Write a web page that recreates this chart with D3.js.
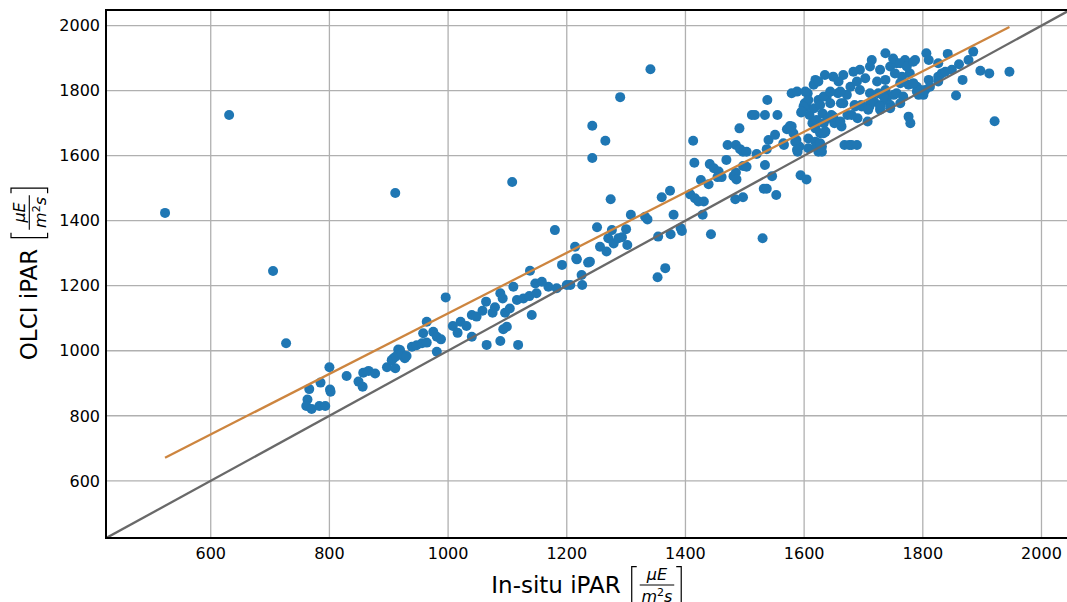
<!DOCTYPE html>
<html>
<head>
<meta charset="utf-8">
<script src="https://cdn.jsdelivr.net/npm/d3@7"></script>
<style>
  body { margin: 0; background: #fff; }
  svg { display: block; font-family: "DejaVu Sans", sans-serif; }
</style>
</head>
<body>
<svg id="chart" width="1067" height="602"></svg>
<script>
// in-situ iPAR vs OLCI iPAR
const points = [
  [523,1424],[631,1725],[705,1245],[727,1023],[911,1485],[1108,1519],[1341,1866],[1290,1780],[1243,1692],[1243,1593],[1265,1646],
  [800,949],[766,882],[785,902],[801,881],[802,874],[763,850],[761,830],[770,821],[783,830],[793,830],[829,922],[849,905],[856,889],
  [857,932],[866,938],[877,930],[897,949],[908,977],[911,946],[916,1004],[905,971],[912,982],[919,1002],[927,977],[922,990],[930,984],
  [939,1012],[947,1017],[956,1023],[964,1025],[958,1054],[964,1089],[975,1058],[981,1043],[988,1035],[981,997],[996,1164],[1008,1076],
  [1016,1055],[1021,1089],[1031,1076],[1040,1043],[1040,1110],[1048,1105],[1058,1123],[1064,1151],[1075,1117],[1079,1134],[1088,1177],
  [1092,1161],[1096,1117],[1104,1130],[1099,1074],[1093,1066],[1110,1197],[1116,1156],[1127,1161],[1137,1168],[1149,1177],[1141,1110],
  [1065,1018],[1088,1030],[1118,1018],[1147,1207],[1169,1197],[1183,1192],[1200,1202],[1158,1212],[1138,1246],[1206,1202],
  [1180,1371],[1192,1264],[1214,1320],[1217,1281],[1239,1274],[1251,1380],[1256,1320],[1267,1305],[1270,1346],[1276,1371],[1279,1330],
  [1287,1346],[1293,1349],[1300,1374],[1302,1325],[1226,1202],[1225,1233],[1216,1284],[1236,1271],[1274,1466],[1308,1418],[1332,1412],
  [1336,1404],[1360,1472],[1374,1492],[1380,1418],[1354,1351],[1375,1358],[1392,1377],[1394,1368],[1366,1254],[1353,1226],[1413,1646],
  [1415,1578],[1408,1481],[1416,1469],[1422,1459],[1431,1459],[1429,1418],[1426,1525],[1439,1512],[1443,1358],[1441,1574],[1448,1561],
  [1456,1551],[1461,1534],[1454,1534],[1469,1587],[1471,1633],[1481,1537],[1484,1466],[1485,1633],[1492,1620],[1497,1612],[1503,1612],
  [1485,1548],[1486,1527],[1497,1568],[1503,1566],[1497,1472],[1491,1684],[1520,1605],[1530,1346],[1532,1498],[1537,1498],[1534,1571],
  [1537,1620],[1540,1648],[1546,1537],[1553,1479],[1551,1664],[1566,1633],[1571,1681],[1576,1691],[1582,1669],[1587,1648],[1592,1628],
  [1589,1612],[1512,1725],[1517,1725],[1534,1725],[1555,1725],[1538,1771],[1594,1540],[1604,1527],[1607,1623],[1595,1733],[1604,1751],
  [1565,1638],[1579,1792],[1601,1761],[1606,1792],[1607,1653],[1609,1725],[1617,1746],[1614,1700],[1619,1643],[1621,1628],[1624,1612],
  [1630,1628],[1627,1669],[1624,1771],[1631,1730],[1633,1700],[1636,1674],[1638,1782],[1640,1715],[1646,1725],[1651,1700],[1657,1792],
  [1662,1761],[1668,1633],[1676,1633],[1673,1725],[1685,1756],[1690,1715],[1696,1756],[1707,1705],[1710,1751],[1718,1766],[1729,1756],
  [1740,1782],[1751,1787],[1776,1720],[1779,1700],[1790,1797],[1804,1802],
  [1737,1915],[1714,1894],[1711,1874],[1728,1864],[1745,1874],[1756,1884],[1770,1894],[1787,1894],[1806,1915],[1810,1894],[1694,1864],
  [1683,1858],[1666,1848],[1649,1843],[1635,1848],[1619,1833],[1616,1818],[1588,1797],[1602,1797],[1607,1771],[1599,1751],[1596,1735],
  [1579,1690],[1585,1643],[1588,1618],[1619,1684],[1621,1710],[1627,1756],[1633,1782],[1644,1797],[1644,1761],[1649,1720],[1633,1669],
  [1627,1638],[1630,1612],[1663,1690],[1661,1705],[1666,1761],[1672,1787],[1678,1812],[1689,1828],[1703,1838],[1723,1828],[1737,1833],
  [1737,1802],[1739,1771],[1745,1756],[1728,1741],[1711,1761],[1697,1751],[1686,1751],[1680,1725],[1708,1741],[1756,1792],[1767,1782],
  [1776,1818],[1790,1812],[1799,1797],[1801,1787],[1765,1843],[1778,1853],[1680,1633],[1689,1633],[1711,1792],[1725,1792],[1658,1828],
  [1624,1828],[1694,1802],[1661,1797],
  [1750,1899],[1762,1884],[1773,1874],[1784,1889],[1826,1884],[1842,1913],[1832,1853],[1849,1864],[1861,1881],[1877,1894],[1885,1920],
  [1867,1833],[1856,1785],[1897,1861],[1912,1853],[1946,1858],[1921,1706],[1810,1833],[1826,1843],[1812,1812],[1793,1787],[1796,1802],
  [1753,1853],[1734,1782],[1745,1746],[1762,1761],[1728,1751],[1784,1823],[1762,1823],[1826,1828],[1838,1858]
];

// least squares fit drawn in orange
const fitSlope = 0.931;
const fitIntercept = 184;

const xDomain = [423.5, 2043];
const yDomain = [424, 2048];
const xTicks = [600, 800, 1000, 1200, 1400, 1600, 1800, 2000];
const yTicks = [600, 800, 1000, 1200, 1400, 1600, 1800, 2000];

(function drawScatter() {
  const svg = d3.select("#chart");
  const margin = { top: 10, right: 0, bottom: 64, left: 106 };
  const width = 1067;
  const height = 602;
  const innerWidth = width - margin.left - margin.right;
  const innerHeight = height - margin.top - margin.bottom;

  const x = d3.scaleLinear().domain(xDomain).range([margin.left, margin.left + innerWidth]);
  const y = d3.scaleLinear().domain(yDomain).range([margin.top + innerHeight, margin.top]);

  svg.append("defs").append("clipPath").attr("id", "plotClip")
    .append("rect")
    .attr("x", margin.left).attr("y", margin.top)
    .attr("width", innerWidth).attr("height", innerHeight);

  // grid
  const grid = svg.append("g").attr("stroke", "#b0b0b0").attr("stroke-width", 1.3);
  grid.selectAll("line.vx").data(xTicks).join("line")
    .attr("x1", d => x(d)).attr("x2", d => x(d))
    .attr("y1", margin.top).attr("y2", margin.top + innerHeight);
  grid.selectAll("line.hy").data(yTicks).join("line")
    .attr("y1", d => y(d)).attr("y2", d => y(d))
    .attr("x1", margin.left).attr("x2", margin.left + innerWidth);

  const plot = svg.append("g").attr("clip-path", "url(#plotClip)");

  plot.selectAll("circle").data(points).join("circle")
    .attr("cx", d => x(d[0]))
    .attr("cy", d => y(d[1]))
    .attr("r", 5)
    .attr("fill", "#1f77b4");

  // 1:1 line
  plot.append("line")
    .attr("x1", x(300)).attr("y1", y(300))
    .attr("x2", x(2200)).attr("y2", y(2200))
    .attr("stroke", "#696969").attr("stroke-width", 2.3);

  const xExt = d3.extent(points, d => d[0]);
  plot.append("line")
    .attr("x1", x(xExt[0])).attr("y1", y(fitSlope * xExt[0] + fitIntercept))
    .attr("x2", x(xExt[1])).attr("y2", y(fitSlope * xExt[1] + fitIntercept))
    .attr("stroke", "#cd853f").attr("stroke-width", 2.3);

  // tick labels
  svg.append("g").selectAll("text").data(xTicks).join("text")
    .attr("x", d => x(d)).attr("y", margin.top + innerHeight + 21)
    .attr("text-anchor", "middle").attr("font-size", 16).attr("fill", "#000")
    .text(d => d);
  svg.append("g").selectAll("text").data(yTicks).join("text")
    .attr("x", margin.left - 6).attr("y", d => y(d)).attr("dy", "0.36em")
    .attr("text-anchor", "end").attr("font-size", 16).attr("fill", "#000")
    .text(d => d);

  // spines
  const spine = svg.append("g").attr("stroke", "#000").attr("stroke-width", 2).attr("fill", "none");
  spine.append("path")
    .attr("d", `M${margin.left + innerWidth},${margin.top} H${margin.left} V${margin.top + innerHeight} H${margin.left + innerWidth}`);

  function mathLabel(parent, label) {
    const g = parent.append("g");
    const t = g.append("text").attr("font-size", 23).attr("fill", "#000").text(label);
    const e = t.node().getComputedTextLength();
    const bl = e + 11;
    const br = e + 60.5;
    const brk = g.append("g").attr("fill", "none").attr("stroke", "#000").attr("stroke-width", 1.2);
    brk.append("path").attr("d", `M${bl + 5},-26 H${bl} V10.6 H${bl + 5}`);
    brk.append("path").attr("d", `M${br - 5},-26 H${br} V10.6 H${br - 5}`);
    const f0 = e + 19, f1 = e + 53.5, fc = (f0 + f1) / 2;
    g.append("line").attr("x1", f0).attr("x2", f1).attr("y1", -7.7).attr("y2", -7.7)
      .attr("stroke", "#000").attr("stroke-width", 1.1);
    g.append("text").attr("x", fc).attr("y", -12.5).attr("text-anchor", "middle")
      .attr("font-size", 16).attr("font-style", "italic").text("μE");
    const den = g.append("text").attr("x", fc).attr("y", 9.3).attr("text-anchor", "middle")
      .attr("font-size", 16).attr("font-style", "italic");
    den.append("tspan").text("m");
    den.append("tspan").attr("dy", -6).attr("font-size", 11).attr("font-style", "normal").text("2");
    den.append("tspan").attr("dy", 6).text("s");
    return { g, w: br + 0.5 };
  }

  const xl = mathLabel(svg, "In-situ iPAR");
  xl.g.attr("transform", `translate(${margin.left + innerWidth / 2 - xl.w / 2},592.7)`);

  const yl = mathLabel(svg, "OLCI iPAR");
  yl.g.attr("transform", `translate(37,${margin.top + innerHeight / 2 + yl.w / 2}) rotate(-90)`);
})();
</script>
</body>
</html>
